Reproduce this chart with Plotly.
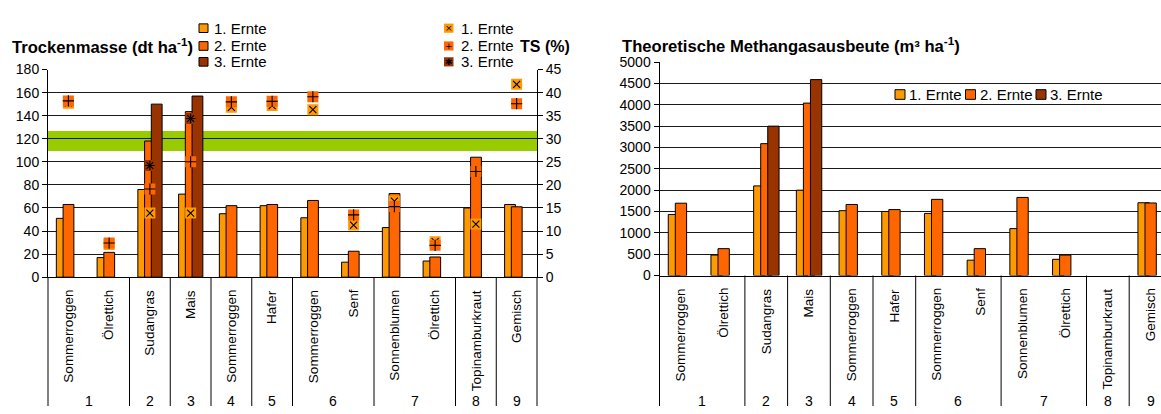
import plotly.graph_objects as go

# --- data -------------------------------------------------------------
crops = ["Sommerroggen", "Ölrettich", "Sudangras", "Mais", "Sommerroggen", "Hafer",
         "Sommerroggen", "Senf", "Sonnenblumen", "Ölrettich", "Topinamburkraut", "Gemisch"]
variants = [1, 1, 2, 3, 4, 5, 6, 6, 7, 7, 8, 9]
harvests = ["1. Ernte", "2. Ernte", "3. Ernte"]

# Trockenmasse (dt ha-1)
tm_1 = [51, 17, 76, 72, 55, 62, 51.5, 13, 43, 14, 60, 63]
tm_2 = [63, 21.5, 118, 143.5, 62, 63, 66.5, 22.5, 72.5, 17.5, 104, 61]
tm_3 = [None, None, 150, 157, None, None, None, None, None, None, None, None]

# TS (%)
ts_1 = [37.7, 7.1, 13.9, 13.9, 36.8, 37.2, 36.3, 11.3, 16.5, 7.7, 11.5, 41.8]
ts_2 = [38.2, 7.4, 19.1, 25.0, 38.0, 38.1, 39.1, 13.5, 15.3, 6.9, 22.9, 37.6]
ts_3 = [None, None, 24.2, 34.4, None, None, None, None, None, None, None, None]

# Theoretische Methangasausbeute (m3 ha-1)
ch4_1 = [1430, 480, 2100, 2000, 1520, 1500, 1455, 360, 1100, 380, None, 1705]
ch4_2 = [1695, 630, 3090, 4040, 1665, 1545, 1785, 630, 1830, 480, None, 1700]
ch4_3 = [None, None, 3500, 4590, None, None, None, None, None, None, None, None]

# optimum TS band (%)
ts_band = [27.35, 31.67]

# --- styling ----------------------------------------------------------
W, H = 1161, 414
FONT = "Liberation Sans"
colors = ["#FF9900", "#FF6600", "#993300"]
bar_offsets = [-0.295, -0.13, 0.035]
bar_width = 0.265
ts_symbols = ["x-thin-open", "cross-thin-open", "asterisk-open"]
ts_symbol_sizes = [7, 8, 8]
ts_glyphs = ["×", "+", "✱"]


def px(x):
    return x / W


def py(y):
    return 1 - y / H


x_pos = list(range(len(crops)))
left_range = [-0.5, len(crops) - 0.5]
right_range = [-0.5, -0.5 + (W - 659.5) / 42.7]

fig = go.Figure()

# dry matter bars (left chart)
for name, vals, col, off in zip(harvests, [tm_1, tm_2, tm_3], colors, bar_offsets):
    fig.add_trace(go.Bar(
        x=x_pos, y=vals, name=name, width=bar_width, offset=off,
        marker=dict(color=col, line=dict(color="#000000", width=1)),
        xaxis="x", yaxis="y", showlegend=False,
    ))

# TS markers (right axis of left chart)
for name, vals, col, sym, ssize in zip(harvests, [ts_1, ts_2, ts_3], colors,
                                       ts_symbols, ts_symbol_sizes):
    fig.add_trace(go.Scatter(
        x=x_pos, y=vals, mode="markers", name=name,
        marker=dict(symbol="square", size=11, color=col, line=dict(width=0)),
        xaxis="x", yaxis="y2", showlegend=False,
    ))
    fig.add_trace(go.Scatter(
        x=x_pos, y=vals, mode="markers", name=name,
        marker=dict(symbol=sym, size=ssize, color="#000000",
                    line=dict(color="#000000", width=1.1)),
        xaxis="x", yaxis="y2", showlegend=False, hoverinfo="skip",
    ))

# methane yield bars (right chart)
for name, vals, col, off in zip(harvests, [ch4_1, ch4_2, ch4_3], colors, bar_offsets):
    fig.add_trace(go.Bar(
        x=x_pos, y=vals, name=name, width=bar_width, offset=off,
        marker=dict(color=col, line=dict(color="#000000", width=1)),
        xaxis="x2", yaxis="y3", showlegend=False,
    ))

tickfont = dict(family=FONT, size=14, color="#000000")
grid = "#1a1a1a"

fig.update_layout(
    width=W, height=H, autosize=False,
    margin=dict(l=0, r=0, t=0, b=0),
    paper_bgcolor="white", plot_bgcolor="white",
    barmode="overlay", showlegend=False,
    font=dict(family=FONT, size=14, color="#000000"),
    xaxis=dict(
        domain=[px(48), px(537)], anchor="y", range=left_range,
        tickmode="array", tickvals=x_pos, showticklabels=False, ticks="",
        showgrid=False, zeroline=False, showline=True, linecolor="#000000", linewidth=1,
    ),
    yaxis=dict(
        domain=[py(280), py(64)], anchor="x", range=[0, 180], dtick=20,
        tickfont=tickfont, ticks="outside", ticklen=5, tickcolor="#000000",
        showgrid=True, gridcolor=grid, gridwidth=1, zeroline=False,
        showline=True, linecolor="#000000", linewidth=1,
    ),
    yaxis2=dict(
        overlaying="y", side="right", anchor="x", range=[0, 45], dtick=5,
        tickfont=tickfont, ticks="outside", ticklen=5, tickcolor="#000000",
        showgrid=False, zeroline=False, showline=True, linecolor="#000000", linewidth=1,
    ),
    xaxis2=dict(
        domain=[px(659.5), 1.0], anchor="y3", range=right_range,
        tickmode="array", tickvals=x_pos, showticklabels=False, ticks="",
        showgrid=False, zeroline=False, showline=True, linecolor="#000000", linewidth=1,
    ),
    yaxis3=dict(
        domain=[py(278.3), py(56.3)], anchor="x2", range=[0, 5000], dtick=500,
        tickfont=tickfont, ticks="outside", ticklen=5, tickcolor="#000000",
        showgrid=True, gridcolor=grid, gridwidth=1, zeroline=False,
        showline=True, linecolor="#000000", linewidth=1,
    ),
)

shapes = []
annotations = []

# green TS band, expressed on the left axis scale
scale = 180 / 45
shapes.append(dict(type="rect", xref="x", yref="y", layer="below",
                   x0=left_range[0], x1=left_range[1],
                   y0=ts_band[0] * scale, y1=ts_band[1] * scale,
                   fillcolor="#99CC00", line=dict(width=0)))


def category_axis(xref, rng, y_axis):
    span = rng[1] - rng[0]
    # vertical crop names hanging below the axis
    for i, name in enumerate(crops):
        if i > rng[1]:
            continue
        annotations.append(dict(xref=xref, yref="paper", x=i, y=py(y_axis + 11),
                                text=name, textangle=-90, showarrow=False,
                                xanchor="center", yanchor="top",
                                font=dict(family=FONT, size=13.5, color="#000000")))
    # dividers between cropping variants
    bounds = [0] + [i for i in range(1, len(variants)) if variants[i] != variants[i - 1]] + [len(variants)]
    for b in bounds:
        frac = (b - 0.5 - rng[0]) / span
        if frac > 1.0001:
            continue
        shapes.append(dict(type="line", xref=xref + " domain", yref="paper",
                           x0=frac, x1=frac, y0=py(y_axis), y1=0,
                           line=dict(color="#000000", width=1)))
    # variant numbers centred below their crops
    for v in sorted(set(variants)):
        idx = [i for i, g in enumerate(variants) if g == v]
        xc = (idx[0] + idx[-1]) / 2
        annotations.append(dict(xref=xref, yref="paper", x=xc, y=py(409),
                                text=str(v), showarrow=False, xanchor="center",
                                yanchor="middle", font=dict(family=FONT, size=14)))


category_axis("x", left_range, 280)
category_axis("x2", right_range, 278.3)

# titles
annotations.append(dict(xref="paper", yref="paper", x=px(10), y=py(40),
                        text="<b>Trockenmasse (dt ha<sup>-1</sup>)</b>", showarrow=False,
                        xanchor="left", yanchor="middle", font=dict(family=FONT, size=16.6)))
annotations.append(dict(xref="paper", yref="paper", x=px(518), y=py(40),
                        text="<b>TS (%)</b>", showarrow=False,
                        xanchor="left", yanchor="middle", font=dict(family=FONT, size=16)))
annotations.append(dict(xref="paper", yref="paper", x=px(620), y=py(39),
                        text="<b>Theoretische Methangasausbeute (m³ ha<sup>-1</sup>)</b>",
                        showarrow=False, xanchor="left", yanchor="middle",
                        font=dict(family=FONT, size=16.6)))

legend_font = dict(family=FONT, size=15, color="#000000")
rows = [21, 39.5, 56]

# legend: dry matter bars
for name, col, yc in zip(harvests, colors, rows):
    shapes.append(dict(type="rect", xref="paper", yref="paper",
                       x0=px(199), x1=px(208), y0=py(yc + 4.5), y1=py(yc - 4.5),
                       fillcolor=col, line=dict(color="#000000", width=1)))
    annotations.append(dict(xref="paper", yref="paper", x=px(212), y=py(yc), text=name,
                            showarrow=False, xanchor="left", yanchor="middle",
                            font=legend_font))

# legend: TS markers
for name, col, glyph, yc in zip(harvests, colors, ts_glyphs, rows):
    shapes.append(dict(type="rect", xref="paper", yref="paper",
                       x0=px(444), x1=px(453.5), y0=py(yc + 4.75), y1=py(yc - 4.75),
                       fillcolor=col, line=dict(width=0)))
    annotations.append(dict(xref="paper", yref="paper", x=px(448.75), y=py(yc), text=glyph,
                            showarrow=False, xanchor="center", yanchor="middle",
                            font=dict(family="DejaVu Sans", size=9, color="#000000")))
    annotations.append(dict(xref="paper", yref="paper", x=px(459), y=py(yc), text=name,
                            showarrow=False, xanchor="left", yanchor="middle",
                            font=legend_font))

# legend: methane chart (horizontal)
for name, col, x0 in zip(harvests, colors, [895, 965.5, 1036]):
    shapes.append(dict(type="rect", xref="paper", yref="paper",
                       x0=px(x0), x1=px(x0 + 10), y0=py(95), y1=py(85),
                       fillcolor=col, line=dict(color="#000000", width=1)))
    annotations.append(dict(xref="paper", yref="paper", x=px(x0 + 12), y=py(90), text=name,
                            showarrow=False, xanchor="left", yanchor="middle",
                            font=legend_font))

fig.update_layout(shapes=shapes, annotations=annotations)

fig.write_html("out.html")
